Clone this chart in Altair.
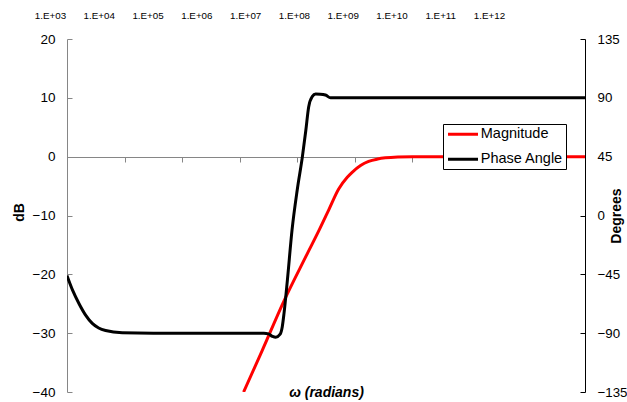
import json
import altair as alt
import pandas as pd

# ---- data ----
series_names = ["Magnitude", "Phase Angle"]
series_colors = ["#FF0000", "#000000"]

mag_omega = [1.17e6, 2.45e6, 5.9e6, 1.41e7, 2.4e7, 3.55e7, 5.25e7, 7.4e7, 8.9e7,
             1.26e8, 1.74e8, 2.5e8, 3.4e8, 5.6e8, 1.0e9, 1.0e12]
mag_db = [-40, -33, -24.5, -17, -12.5, -9, -5.5, -3.5, -2.7,
          -1.5, -0.8, -0.4, -0.2, -0.05, 0, 0]

phase_omega = [1.0e3, 1.26e3, 1.62e3, 2.09e3, 2.75e3, 3.55e3, 4.68e3, 9.12e3, 3.16e4,
               2.63e6, 3.16e6, 3.72e6, 4.22e6, 5.01e6, 5.5e6, 5.89e6, 6.76e6, 8.13e6,
               1.0e7, 1.23e7, 1.41e7, 1.58e7, 1.82e7, 2.09e7, 2.51e7, 3.09e7, 3.8e7,
               1.0e8, 1.0e12]
phase_deg = [-46, -57.5, -67.5, -76, -82.5, -86, -88, -89.7, -90,
             -90, -90.5, -92.5, -93.2, -91, -85, -75, -49, -11,
             19.5, 45, 65, 83, 90.9, 92.9, 92.8, 92.2, 90,
             90, 90]

x_ticks = [1e3, 1e4, 1e5, 1e6, 1e7, 1e8, 1e9, 1e10, 1e11, 1e12]
x_exponents = [3, 4, 5, 6, 7, 8, 9, 10, 11, 12]
x_labels = ["1.E+03", "1.E+04", "1.E+05", "1.E+06", "1.E+07",
            "1.E+08", "1.E+09", "1.E+10", "1.E+11", "1.E+12"]
db_ticks = [-40, -30, -20, -10, 0, 10, 20]
deg_ticks = [-135, -90, -45, 0, 45, 90, 135]

# ---- styling ----
FONT = "Liberation Sans"
GRAY = "#868686"
W, H = 518, 353

mag = pd.DataFrame({"omega": mag_omega, "value": mag_db, "series": series_names[0]})
ph = pd.DataFrame({"omega": phase_omega, "value": phase_deg, "series": series_names[1]})
tick_df = pd.DataFrame({"exponent": x_exponents})

xdomain = [x_ticks[0], x_ticks[-1]]
xscale = alt.Scale(type="log", domain=xdomain, nice=False)
# the labels along the top are spread a little narrower than the plot, as in the source
top_scale = alt.Scale(type="linear", domain=[x_exponents[0], x_exponents[-1]],
                      nice=False, zero=False, range=[0, 439])
label_expr = f"{json.dumps(x_labels)}[indexof({json.dumps(x_exponents)}, datum.value)]"

color = alt.Color(
    "series:N",
    scale=alt.Scale(domain=series_names, range=series_colors),
    legend=alt.Legend(
        orient="none", legendX=376, legendY=85, title=None,
        strokeColor="black", fillColor="white", padding=3,
        symbolType="M-3,0H3", symbolSize=100, symbolStrokeWidth=3,
        symbolOffset=9.75,
        labelFont=FONT, labelFontSize=14.5, labelColor="black", labelOffset=10.5,
        rowPadding=10,
    ),
)

mag_line = alt.Chart(mag).mark_line(strokeWidth=3, clip=True, interpolate="monotone").encode(
    x=alt.X("omega:Q", scale=xscale, axis=None),
    y=alt.Y("value:Q", scale=alt.Scale(domain=[-40, 20], nice=False, zero=False),
            axis=alt.Axis(orient="left", values=db_ticks, ticks=False,
                          domainColor=GRAY, grid=True, gridDash=[5, 3000],
                          gridColor=GRAY, gridOpacity=1,
                          labelFont=FONT, labelFontSize=13.5, labelColor="black",
                          labelPadding=12,
                          title="dB", titleFont=FONT, titleFontSize=14,
                          titleFontWeight="bold", titleColor="black",
                          titleX=-48, titleY=173, titleAngle=270,
                          titleBaseline="middle", titleAlign="center")),
    color=color,
)

phase_line = alt.Chart(ph).mark_line(strokeWidth=3, clip=True, interpolate="monotone").encode(
    x=alt.X("omega:Q", scale=xscale,
            axis=alt.Axis(orient="bottom", offset=-235, values=x_ticks, labels=False,
                          ticks=True, tickSize=5, tickColor=GRAY, domainColor=GRAY,
                          grid=False,
                          title="ω (radians)", titleFont=FONT, titleFontSize=14,
                          titleFontWeight="bold", titleFontStyle="italic",
                          titleColor="black", titleY=235, titleBaseline="middle")),
    y=alt.Y("value:Q", scale=alt.Scale(domain=[-135, 135], nice=False, zero=False),
            axis=alt.Axis(orient="right", values=deg_ticks, ticks=False,
                          domainColor="black", grid=True, gridDash=[5, 3000],
                          gridColor="black", gridOpacity=1,
                          labelFont=FONT, labelFontSize=13.3, labelColor="black",
                          labelPadding=12,
                          title="Degrees", titleFont=FONT, titleFontSize=14,
                          titleFontWeight="bold", titleColor="black",
                          titleX=31, titleY=176.5, titleAngle=270,
                          titleBaseline="middle", titleAlign="center")),
    color=color,
)

top_labels = alt.Chart(tick_df).mark_point(opacity=0).encode(
    x=alt.X("exponent:Q", scale=top_scale,
            axis=alt.Axis(orient="top", position=-17, values=x_exponents, labelExpr=label_expr,
                          ticks=False, domain=False, grid=False,
                          labelFlush=False, labelOverlap=False, labelBound=False,
                          labelAlign="center",
                          labelFont=FONT, labelFontSize=9.8, labelColor="black",
                          labelPadding=19, title=None)),
)

chart = (
    alt.layer(mag_line, phase_line, top_labels)
    .resolve_scale(x="independent", y="independent")
    .resolve_axis(x="independent", y="independent")
    .properties(
        width=W, height=H,
        autosize=alt.AutoSizeParams(type="none"),
        padding={"left": 67, "top": 39, "right": 42, "bottom": 10},
        background="white",
    )
    .configure_view(stroke=None)
)

chart.save("out.html", embed_options={"renderer": "svg", "actions": False})
